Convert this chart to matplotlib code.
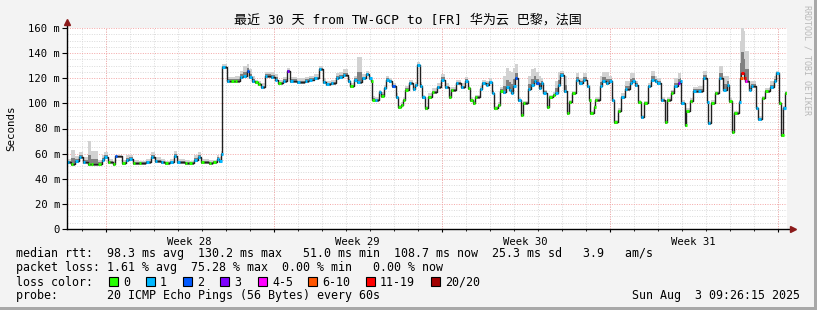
import matplotlib
matplotlib.use('Agg')
import matplotlib.pyplot as plt
from matplotlib.patches import Rectangle
from matplotlib.collections import LineCollection
from datetime import datetime

# ---- data ----
title = '最近 30 天 from TW-GCP to [FR] 华为云 巴黎，法国'
start = datetime(2025, 7, 4, 9, 26, 15)   # 30 days before the stamp
stamp = 'Sun Aug  3 09:26:15 2025'

# time offset in days, median rtt (ms), lost pings out of 20, top of smoke (ms)
t_day = [0.00, 0.15, 0.35, 0.50, 0.65, 0.86, 1.00, 1.30, 1.45, 1.55, 1.70, 1.90,
         2.00, 2.30, 2.45, 2.60, 2.75, 3.00, 3.30, 3.50, 3.65, 3.90, 4.10, 4.30,
         4.45, 4.60, 4.90, 5.10, 5.30, 5.45, 5.60, 5.90, 6.10, 6.25, 6.35, 6.42,
         6.47, 6.65, 6.85, 7.00, 7.20, 7.35, 7.50, 7.60, 7.70, 7.85, 7.95, 8.07,
         8.25, 8.50, 8.65, 8.80, 9.00, 9.15, 9.30, 9.60, 9.90, 10.10, 10.30, 10.50,
         10.67, 10.80, 11.00, 11.20, 11.35, 11.50, 11.70, 11.80, 11.97, 12.10, 12.30, 12.45,
         12.60, 12.65, 12.72, 12.83, 13.00, 13.10, 13.20, 13.30, 13.40, 13.55, 13.70, 13.80,
         13.90, 14.00, 14.10, 14.25, 14.40, 14.50, 14.60, 14.70, 14.80, 14.90, 15.05, 15.20,
         15.40, 15.60, 15.75, 15.90, 16.00, 16.20, 16.40, 16.60, 16.70, 16.80, 16.90, 17.00,
         17.20, 17.30, 17.45, 17.60, 17.70, 17.80, 17.95, 18.05, 18.15, 18.30, 18.40, 18.50,
         18.60, 18.65, 18.80, 18.90, 19.00, 19.20, 19.35, 19.45, 19.55, 19.65, 19.75, 19.85,
         20.00, 20.10, 20.25, 20.35, 20.45, 20.55, 20.70, 20.82, 20.90, 21.05, 21.20, 21.35,
         21.50, 21.65, 21.75, 21.80, 21.95, 22.00, 22.20, 22.30, 22.45, 22.60, 22.70, 22.80,
         22.95, 23.10, 23.25, 23.45, 23.55, 23.65, 23.80, 23.90, 24.05, 24.20, 24.35, 24.50,
         24.60, 24.75, 24.90, 25.00, 25.15, 25.30, 25.45, 25.54, 25.60, 25.75, 25.80, 25.96,
         26.10, 26.30, 26.50, 26.65, 26.70, 26.85, 27.00, 27.15, 27.35, 27.50, 27.60, 27.70,
         27.80, 28.00, 28.05, 28.10, 28.20, 28.25, 28.40, 28.50, 28.70, 28.80, 28.96, 29.10,
         29.30, 29.45, 29.55, 29.65, 29.77, 29.85, 29.93, 30.00]

rtt_ms = [53, 52, 54, 57, 53, 52, 52, 52, 55, 57.5, 53, 52,
          58, 52.5, 55, 56, 52.5, 52.5, 53, 57, 54, 53, 52.5, 53,
          58, 53, 52.5, 52.5, 55, 57.5, 53, 52.5, 53, 56, 54, 60,
          128.7, 118, 118, 118, 121, 122, 126, 121, 118, 117, 115.5, 113,
          122, 121, 119, 116, 118, 126, 118, 117, 118, 119, 120, 127,
          117, 115.5, 116, 120, 121, 122.6, 118, 113.8, 119, 117, 120, 123,
          120, 118, 103, 102.7, 109, 106, 112, 119, 117.6, 113.5, 105, 97,
          99, 102.7, 111, 116, 111.7, 114.6, 130.5, 114, 105, 96, 105, 109,
          113, 119, 113, 105, 110.6, 116, 113, 118, 112, 102.7, 100, 105,
          111.7, 116, 115, 117, 108.6, 96, 98.5, 110, 109, 113, 111, 108.6,
          114, 120, 102.7, 90.7, 100, 111.7, 114.6, 118, 116, 112, 116, 108.6,
          97, 105, 107, 108.6, 115, 122.6, 110, 92, 101, 108, 119, 116,
          119, 113.5, 102.7, 92, 97, 102.7, 113.5, 118, 116, 117.6, 102.7, 85.4,
          94, 105, 111.7, 116, 118, 114.6, 101, 89.4, 100, 113.5, 119, 117.6,
          116, 102.7, 85.4, 102.7, 108.6, 113.5, 116, 118, 100, 82.7, 94, 102,
          110, 110, 120, 101, 84.5, 100, 108, 120, 111, 115, 102, 77.5,
          92, 101, 120, 124, 120, 118, 111, 114, 96, 87.7, 104, 110,
          113, 118, 124, 100, 74.8, 96, 108, 108.7]

loss = [1, 0, 1, 1, 1, 0, 0, 0, 1, 1, 0, 0,
        2, 0, 1, 1, 0, 0, 1, 1, 1, 1, 0, 1,
        1, 1, 0, 0, 1, 1, 0, 0, 0, 1, 1, 1,
        1, 1, 0, 0, 1, 1, 2, 1, 1, 0, 0, 1,
        1, 1, 1, 0, 1, 3, 1, 1, 1, 1, 1, 1,
        1, 1, 1, 1, 1, 1, 1, 0, 1, 1, 1, 1,
        1, 0, 0, 1, 1, 0, 1, 1, 1, 2, 1, 0,
        0, 0, 0, 1, 1, 1, 1, 1, 1, 0, 0, 0,
        1, 1, 1, 0, 0, 1, 1, 1, 0, 0, 0, 0,
        1, 1, 1, 1, 1, 0, 0, 0, 1, 1, 1, 1,
        1, 2, 1, 0, 0, 1, 1, 1, 2, 1, 1, 1,
        0, 0, 0, 1, 1, 1, 1, 0, 0, 0, 1, 1,
        1, 1, 0, 0, 0, 0, 1, 1, 1, 1, 1, 0,
        0, 1, 1, 1, 1, 1, 0, 1, 0, 1, 1, 1,
        1, 1, 0, 0, 0, 1, 3, 1, 1, 0, 0, 0,
        1, 1, 1, 1, 1, 0, 0, 1, 1, 1, 0, 0,
        0, 1, 8, 19, 14, 4, 1, 1, 1, 1, 0, 0,
        1, 1, 1, 0, 0, 1, 0, 0]

smoke_top = [56, 63, 58, 61, 57, 70, 62, 55, 59, 61, 56, 54,
             59, 55, 59, 59, 55, 54, 56, 61, 57, 56, 54, 56,
             62, 56, 55, 54, 59, 61, 56, 55, 55, 59, 57, 62,
             131, 121, 121, 122, 126, 130, 131, 127, 122, 119, 118, 116,
             125, 125, 123, 119, 121, 128, 121, 120, 121, 122, 123, 130,
             120, 118, 119, 124, 125, 127, 121, 116, 122, 137, 123, 126,
             122, 120, 106, 105, 111, 109, 115, 122, 120, 116, 108, 99,
             101, 105, 114, 119, 114, 117, 133, 117, 107, 98, 108, 112,
             116, 123, 116, 108, 113, 119, 116, 121, 114, 105, 102, 107,
             114, 119, 118, 120, 111, 98, 101, 113, 122, 128, 126, 125,
             128, 131, 105, 93, 102, 122, 127, 128, 125, 122, 120, 111,
             99, 107, 109, 118, 125, 126, 122, 94, 103, 110, 124, 120,
             124, 116, 105, 94, 99, 105, 122, 125, 125, 122, 105, 87,
             96, 108, 118, 124, 124, 118, 103, 91, 102, 116, 126, 122,
             120, 105, 87, 105, 111, 120, 124, 124, 103, 85, 96, 104,
             113, 114, 126, 104, 86, 103, 110, 130, 122, 122, 104, 79,
             94, 103, 150, 166, 158, 142, 115, 118, 98, 90, 106, 112,
             118, 122, 126, 102, 77, 98, 110, 110]

loss_bins = ['0', '1', '2', '3', '4-5', '6-10', '11-19', '20/20']
loss_colors = ['#26ff00', '#00b8ff', '#0059ff', '#7e00ff', '#ff00ff',
               '#ff5500', '#ff0000', '#a10000']
loss_upper = [0, 1, 2, 3, 5, 10, 19, 20]

stats_rtt = 'median rtt:  98.3 ms avg  130.2 ms max   51.0 ms min  108.7 ms now  25.3 ms sd   3.9   am/s'
stats_loss = 'packet loss: 1.61 % avg  75.28 % max  0.00 % min   0.00 % now'
probe = 'probe:       20 ICMP Echo Pings (56 Bytes) every 60s'
week_names = ['Week 28', 'Week 29', 'Week 30', 'Week 31']

# ---- figure ----
plt.rcParams['font.family'] = ['DejaVu Sans Mono', 'Noto Sans CJK SC']
W, H = 817, 310
fig = plt.figure(figsize=(W / 100, H / 100), dpi=100, facecolor='#f3f3f3')


def fx(px):
    return px / W


def fy(py):
    return 1 - py / H


ax = fig.add_axes([fx(67), fy(229), fx(787) - fx(67), fy(28) - fy(229)])
ax.set_facecolor('white')
ax.set_xlim(0, 30)
ax.set_ylim(0, 160)

# grid: days / sundays, 5 ms / 20 ms
first_sunday = (datetime(2025, 7, 6) - start).total_seconds() / 86400
day_lines = [first_sunday - 1 + k for k in range(31) if 0 < first_sunday - 1 + k < 30]
week_lines = [first_sunday + 7 * k for k in range(5)]
dot = (0, (1, 1.5))
for d in day_lines:
    ax.axvline(d, color='#dadada', lw=0.7, ls=dot, zorder=0)
for v in range(5, 160, 5):
    if v % 20:
        ax.axhline(v, color='#dadada', lw=0.7, ls=dot, zorder=0)
for v in range(20, 161, 20):
    ax.axhline(v, color='#f4a6a6', lw=0.7, ls=dot, zorder=0.5)
for d in week_lines:
    ax.axvline(d, color='#f4a6a6', lw=0.7, ls=dot, zorder=0.5)

# smoke
lo = [r - 1.5 for r in rtt_ms]
mid = [r + (s - r) * 0.4 for r, s in zip(rtt_ms, smoke_top)]
ax.fill_between(t_day, lo, smoke_top, step='post', color='#d2d2d2', lw=0, zorder=1)
ax.fill_between(t_day, lo, mid, step='post', color='#808080', lw=0, zorder=1.1)

# median line
ax.step(t_day, rtt_ms, where='post', color='#202020', lw=1.0, zorder=2)


def loss_color(n):
    for up, c in zip(loss_upper, loss_colors):
        if n <= up:
            return c
    return loss_colors[-1]


segs = [[(t, r), (t + 0.1, r)] for t, r in zip(t_day, rtt_ms)]
ax.add_collection(LineCollection(segs, colors=[loss_color(n) for n in loss],
                                 linewidths=2.2, zorder=3))

# axes lines with arrows
for s in ax.spines.values():
    s.set_visible(False)
ax.plot([0, 0], [0, 1 + 5 / 201], transform=ax.transAxes, color='#000000',
        lw=1, clip_on=False, zorder=5)
ax.plot([0, 1 + 5 / 720], [0, 0], transform=ax.transAxes, color='#000000',
        lw=1, clip_on=False, zorder=5)
ax.plot([0], [1 + 6 / 201], marker='^', ms=4, color='#8b1a1a',
        transform=ax.transAxes, clip_on=False, zorder=6)
ax.plot([1 + 6 / 720], [0], marker='>', ms=4, color='#8b1a1a',
        transform=ax.transAxes, clip_on=False, zorder=6)

ax.set_yticks(range(0, 161, 20))
ax.set_yticklabels(['0'] + ['%d m' % v for v in range(20, 161, 20)])
ax.set_xticks(week_lines)
ax.set_xticklabels([])
ax.set_xticks(day_lines, minor=True)
ax.tick_params(axis='y', length=3.5, width=0.8, pad=1.5, labelsize=7.6, colors='#000000')
ax.tick_params(axis='x', which='major', length=2.5, width=0.8)
ax.tick_params(axis='x', which='minor', length=1.5, width=0.6)

for k, name in enumerate(week_names):
    ax.text(week_lines[k] + 3.5, -0.04, name, transform=ax.get_xaxis_transform(),
            ha='center', va='top', fontsize=7.6)

# titles and side texts
fig.text(fx(408), fy(20), title, ha='center', va='center', fontsize=9.4)
fig.text(fx(11), fy(128), 'Seconds', rotation=90, ha='center', va='center', fontsize=7.8)
fig.text(fx(807), fy(5), 'RRDTOOL / TOBI OETIKER', rotation=270, ha='center',
         va='top', fontsize=6, color='#b8b8b8')

# legend block
fs = 8.4
fig.text(fx(16), fy(254), stats_rtt, ha='left', va='center', fontsize=fs)
fig.text(fx(16), fy(268), stats_loss, ha='left', va='center', fontsize=fs)
fig.text(fx(16), fy(282), 'loss color:', ha='left', va='center', fontsize=fs)
sq_x = [109, 146, 183, 220, 258, 308, 366, 431]
for x0, lab, c in zip(sq_x, loss_bins, loss_colors):
    fig.patches.append(Rectangle((fx(x0), fy(286)), 9 / W, 9 / H, transform=fig.transFigure,
                                 facecolor=c, edgecolor='black', lw=0.8))
    fig.text(fx(x0 + 14), fy(282), lab, ha='left', va='center', fontsize=fs)
fig.text(fx(16), fy(296), probe, ha='left', va='center', fontsize=fs)
fig.text(fx(800), fy(296), stamp, ha='right', va='center', fontsize=fs)

# frame shading
fig.patches.append(Rectangle((0, 0), 1, 3 / H, transform=fig.transFigure,
                             facecolor='#a8a8a8', lw=0))
fig.patches.append(Rectangle((fx(814), 0), 3 / W, 1, transform=fig.transFigure,
                             facecolor='#a8a8a8', lw=0))

plt.savefig('out.png', dpi=100, facecolor=fig.get_facecolor())
